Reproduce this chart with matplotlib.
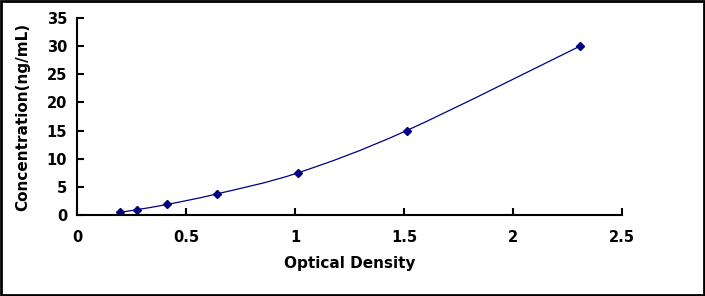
import numpy as np
import matplotlib
matplotlib.use("Agg")
import matplotlib.pyplot as plt
from matplotlib.path import Path
from matplotlib.patches import PathPatch, Rectangle

# standard curve data
od = [0.197, 0.273, 0.414, 0.642, 1.014, 1.512, 2.307]
conc = [0.47, 0.94, 1.88, 3.75, 7.5, 15, 30]

navy = "#000080"
plt.rcParams['font.family'] = ['DejaVu Sans']
plt.rcParams['font.weight'] = 'bold'

fig = plt.figure(figsize=(7.05, 2.96), dpi=100)
ax = fig.add_axes([77/705, 1-215/296, 545/705, 197/296])

# smoothed line through the points (Catmull-Rom as Bezier, like Excel)
x = np.array(od); y = np.array(conc)
verts = [(x[0], y[0])]
codes = [Path.MOVETO]
for i in range(len(x)-1):
    p0 = np.array([x[max(i-1, 0)], y[max(i-1, 0)]])
    p1 = np.array([x[i], y[i]])
    p2 = np.array([x[i+1], y[i+1]])
    p3 = np.array([x[min(i+2, len(x)-1)], y[min(i+2, len(x)-1)]])
    c1 = p1 + (p2 - p0) / 6
    c2 = p2 - (p3 - p1) / 6
    verts += [tuple(c1), tuple(c2), tuple(p2)]
    codes += [Path.CURVE4]*3
ax.add_patch(PathPatch(Path(verts, codes), fill=False, edgecolor=navy, lw=0.9))
ax.plot(od, conc, linestyle='none', marker='D', ms=4.5, color=navy)

ax.set_xlim(0, 2.5)
ax.set_ylim(0, 35)
ax.set_xticks([0, 0.5, 1, 1.5, 2, 2.5])
ax.set_xticklabels(['0', '0.5', '1', '1.5', '2', '2.5'])
ax.set_yticks(range(0, 36, 5))
ax.tick_params(direction='in', length=5, width=1.5, labelsize=10.5)
ax.tick_params(axis='x', pad=11)
ax.tick_params(axis='y', pad=7)
for s in ['top', 'right']:
    ax.spines[s].set_visible(False)
for s in ['left', 'bottom']:
    ax.spines[s].set_linewidth(1.5)
ax.set_xlabel('Optical Density', fontsize=11, fontweight='bold', labelpad=8)
ax.set_ylabel('Concentration(ng/mL)', fontsize=11, fontweight='bold', labelpad=12)

fig.patches.append(Rectangle((0.0015, 0.0025), 0.997, 0.995, transform=fig.transFigure,
                             fill=False, edgecolor='black', lw=2))
fig.savefig('out.png', dpi=100)
